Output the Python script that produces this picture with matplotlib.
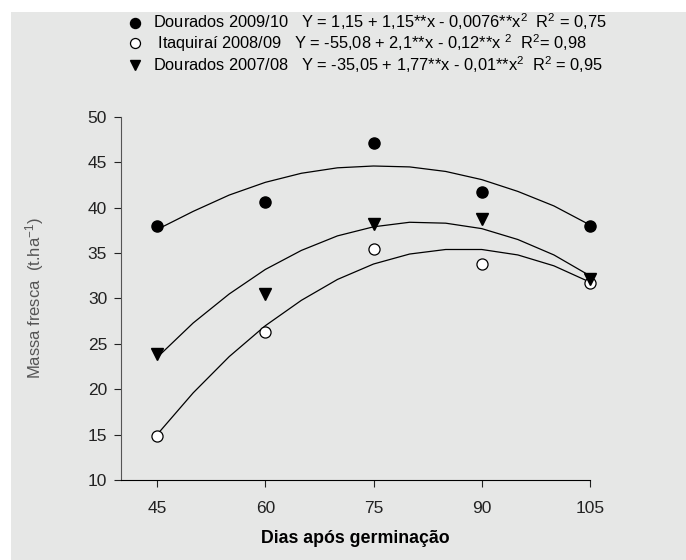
import matplotlib
matplotlib.use('Agg')
import matplotlib.pyplot as plt
from matplotlib.patches import Rectangle

plt.rcParams['font.family'] = ['Liberation Sans', 'DejaVu Sans']
plt.rcParams['mathtext.fontset'] = 'custom'
plt.rcParams['mathtext.rm'] = 'Liberation Sans'
plt.rcParams['mathtext.it'] = 'Liberation Sans:italic'

BG = '#e6e7e6'

# observed points
dias = [45, 60, 75, 90, 105]
dourados_0910 = [38.0, 40.6, 47.1, 41.7, 38.0]
itaquirai_0809 = [14.9, 26.3, 35.4, 33.8, 31.7]
dourados_0708 = [23.9, 30.5, 38.2, 38.8, 32.2]

# fitted curves, every 5 days
dias_curva = [45, 50, 55, 60, 65, 70, 75, 80, 85, 90, 95, 100, 105]
curva_0910 = [37.6, 39.6, 41.4, 42.8, 43.8, 44.4, 44.6, 44.5, 44.0, 43.1, 41.8, 40.2, 38.1]
curva_0809 = [15.0, 19.6, 23.6, 27.0, 29.8, 32.1, 33.8, 34.9, 35.4, 35.4, 34.8, 33.6, 31.8]
curva_0708 = [23.5, 27.3, 30.5, 33.2, 35.3, 36.9, 37.9, 38.4, 38.3, 37.7, 36.5, 34.8, 32.5]

labels = [
    r'Dourados 2009/10   Y = 1,15 + 1,15**x - 0,0076**x$^{\mathrm{2}}$  R$^{\mathrm{2}}$ = 0,75',
    r' Itaquiraí 2008/09   Y = -55,08 + 2,1**x - 0,12**x $^{\mathrm{2}}$  R$^{\mathrm{2}}$= 0,98',
    r'Dourados 2007/08   Y = -35,05 + 1,77**x - 0,01**x$^{\mathrm{2}}$  R$^{\mathrm{2}}$ = 0,95',
]

fig = plt.figure(figsize=(6.86, 5.6), dpi=100, facecolor='white')
fig.patches.append(Rectangle((11 / 686, 0), 1, 548 / 560, transform=fig.transFigure,
                             facecolor=BG, edgecolor='none', zorder=-10))
ax = fig.add_axes([121 / 686, 80 / 560, 469 / 686, 363 / 560])
ax.set_facecolor(BG)

ax.plot(dias_curva, curva_0910, color='black', lw=0.9)
ax.plot(dias_curva, curva_0708, color='black', lw=0.9)
ax.plot(dias_curva, curva_0809, color='black', lw=0.9)

h1, = ax.plot(dias, dourados_0910, 'o', color='black', ms=8, ls='none', clip_on=False)
h2, = ax.plot(dias, itaquirai_0809, 'o', mfc='white', mec='black', mew=0.9, ms=8,
              ls='none', clip_on=False)
h3, = ax.plot(dias, dourados_0708, 'v', color='black', ms=8, ls='none', clip_on=False)

ax.set_xlim(40, 105)
ax.set_ylim(10, 50)
ax.set_xticks(dias)
ax.set_yticks(range(10, 51, 5))
for s in ['top', 'right']:
    ax.spines[s].set_visible(False)
ax.spines['left'].set_color('#555555')
ax.spines['bottom'].set_color('black')
ax.tick_params(axis='both', direction='out', length=5, labelsize=12.5, colors='#222222', pad=5)
ax.tick_params(axis='x', pad=10)

ax.set_xlabel('Dias após germinação', fontsize=12.8, fontweight='bold', labelpad=10)
ax.set_ylabel(r'Massa fresca  (t.ha$^{\mathrm{-1}}$)', fontsize=12, color='#555555', labelpad=30)

fig.legend([h1, h2, h3], labels, loc='upper left', bbox_to_anchor=(120 / 686, 1 - 5 / 560),
           frameon=False, fontsize=11.8, handletextpad=0.6, labelspacing=0.0,
           handlelength=1.0, borderaxespad=0, markerscale=0.9)

fig.savefig('out.png', dpi=100, facecolor=fig.get_facecolor())
